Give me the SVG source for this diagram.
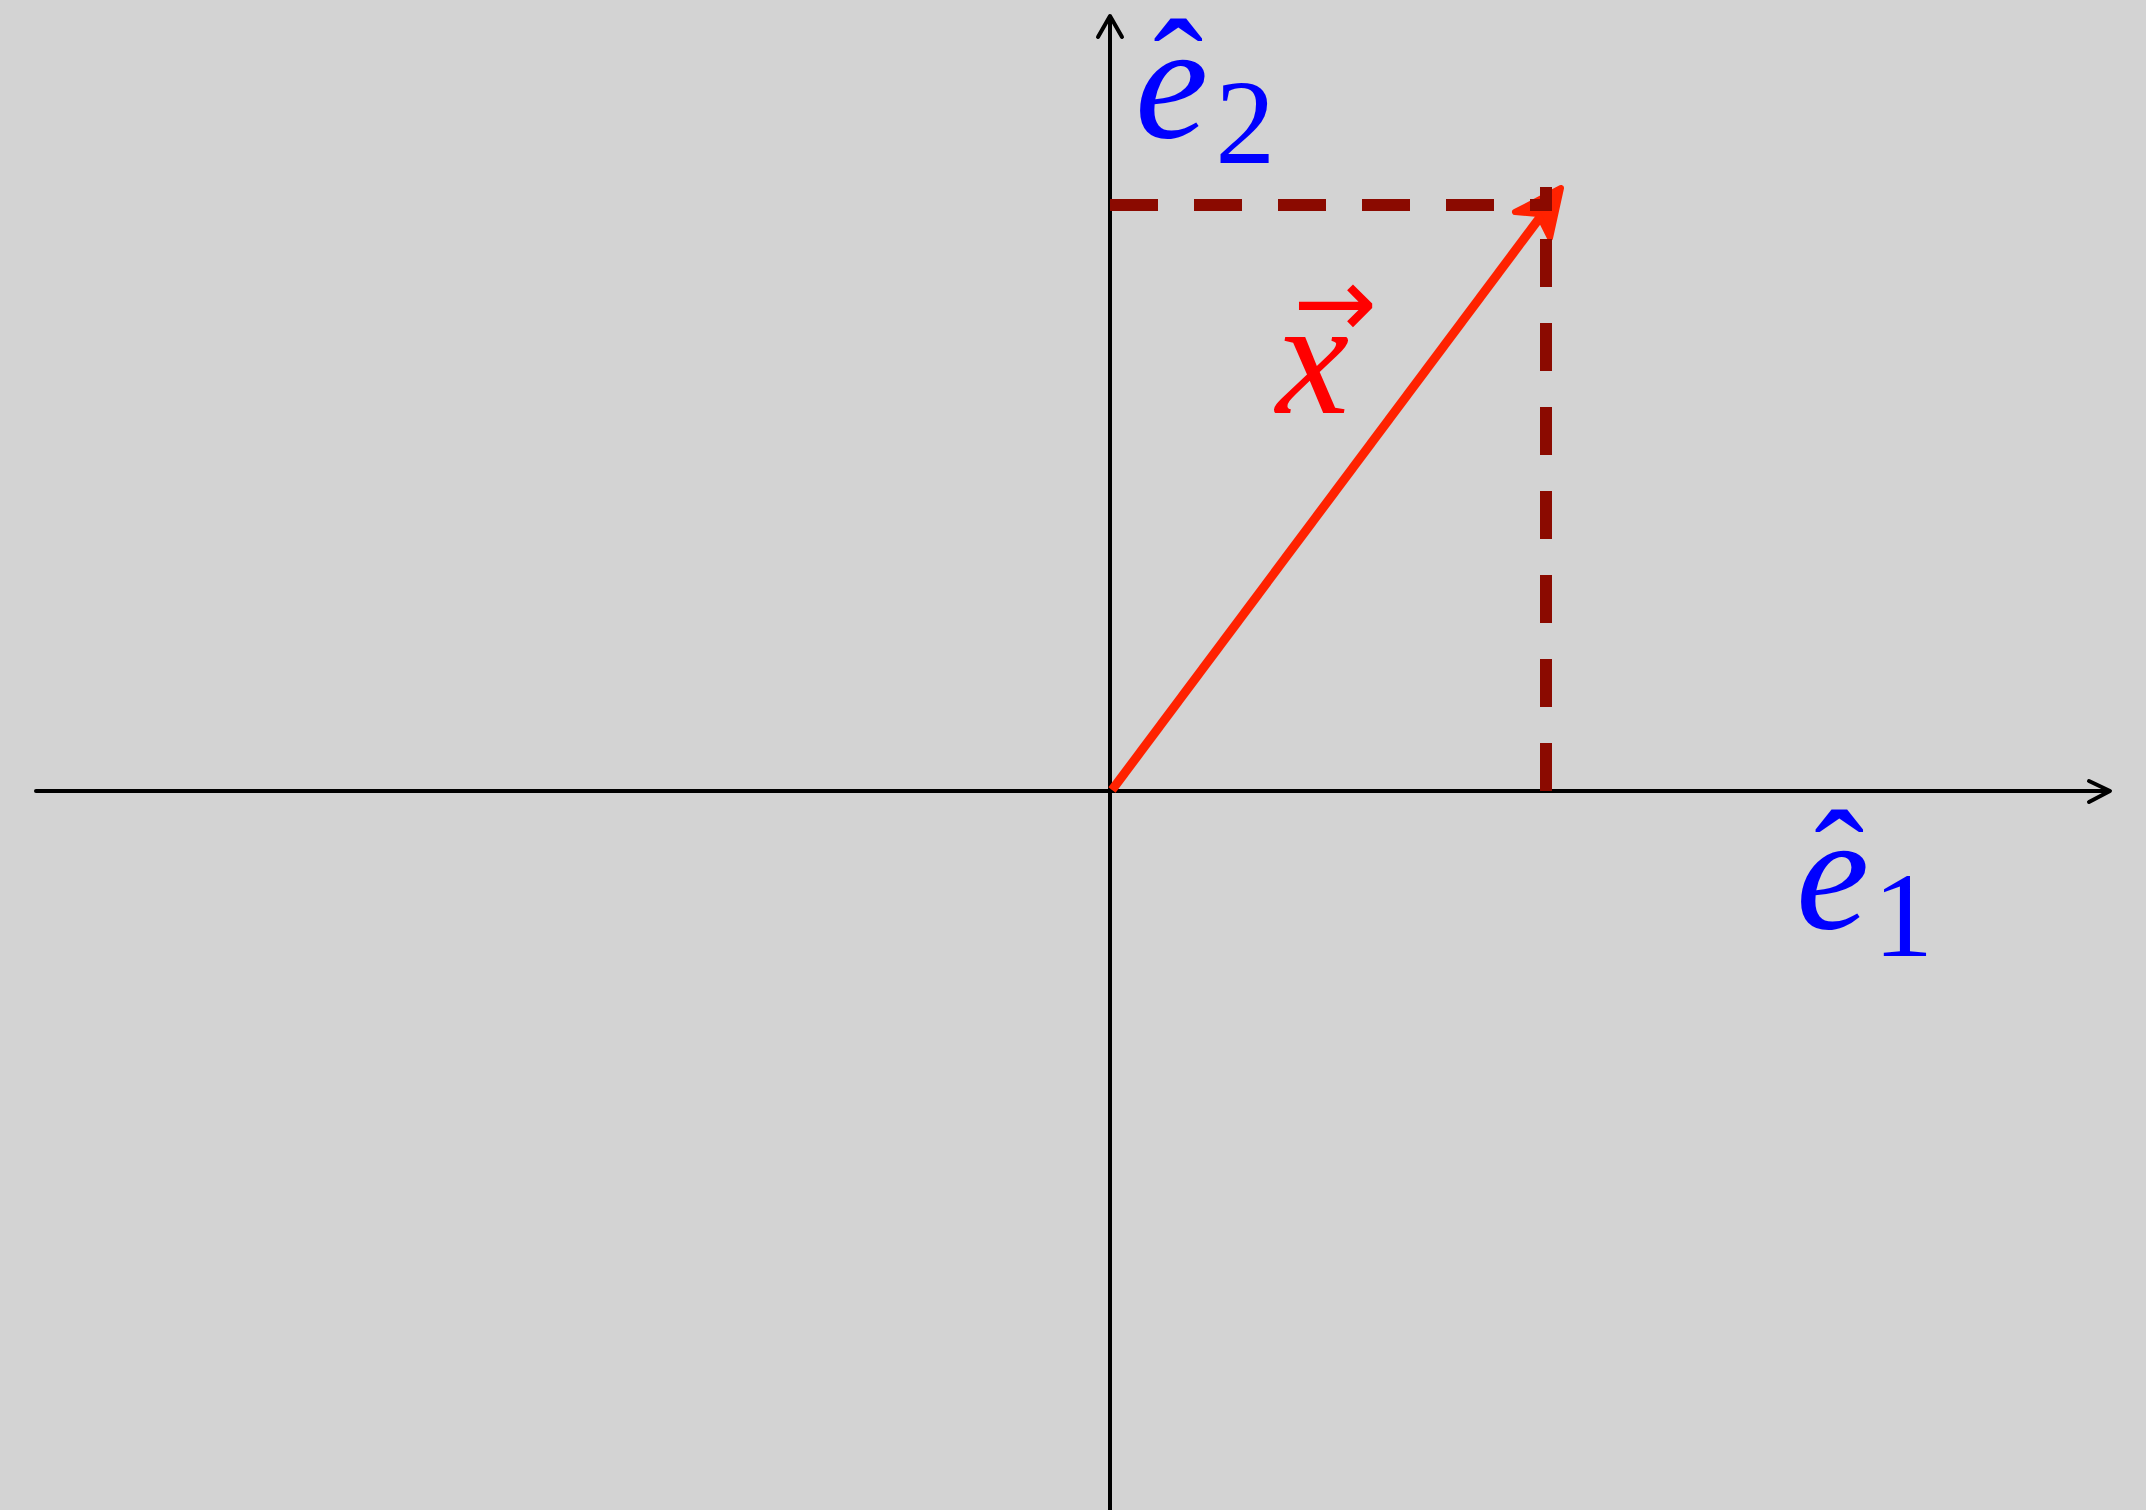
<svg xmlns="http://www.w3.org/2000/svg" width="2146" height="1510" viewBox="0 0 2146 1510">
<style>
.axis{stroke:#000;stroke-width:4;fill:none;stroke-linecap:round;stroke-linejoin:round}
.dash{stroke:#8b0a00;stroke-width:12;fill:none;stroke-dasharray:48 36}
.vec{stroke:#ff2200;stroke-width:9;fill:none}
.head{fill:#ff2200;stroke:#ff2200;stroke-width:6;stroke-linejoin:round}
.lbl{font-family:"Liberation Serif","DejaVu Serif",serif}
.it{font-style:italic}
</style>
<rect x="0" y="0" width="2146" height="1510" fill="#d3d3d3"/>
<g id="axes">
<line class="axis" x1="36" y1="791" x2="2108" y2="791"/>
<polyline class="axis" points="2089,781 2110,791 2089,802"/>
<line class="axis" x1="1110" y1="1510" x2="1110" y2="18"/>
<polyline class="axis" points="1098,37 1110,16 1122,37"/>
</g>
<g id="connectors">
<line class="vec" x1="1112" y1="790" x2="1544" y2="212"/>
<polygon class="head" points="1561,188 1515,212 1538,214 1550,238"/>
<line class="dash" x1="1110" y1="205" x2="1552" y2="205"/>
<line class="dash" x1="1546" y1="791" x2="1546" y2="187"/>
</g>
<g id="label-e2" fill="#0000ff">
<text class="lbl" x="1135" y="137" font-size="165"><tspan class="it">e</tspan><tspan dx="-55" dy="-14" font-size="150">ˆ</tspan><tspan dx="12" dy="40" font-size="120">2</tspan></text>
</g>
<g id="label-e1" fill="#0000ff">
<text class="lbl" x="1796" y="928" font-size="165"><tspan class="it">e</tspan><tspan dx="-55" dy="-14" font-size="150">ˆ</tspan><tspan dx="9" dy="42" font-size="120">1</tspan></text>
</g>
<g id="label-x" fill="#ff0000">
<text class="lbl" x="1276" y="413" font-size="165"><tspan class="it">x</tspan><tspan dx="-56" dy="-76" font-size="100" style="font-family:'DejaVu Sans',sans-serif">→</tspan></text>
</g>
</svg>
